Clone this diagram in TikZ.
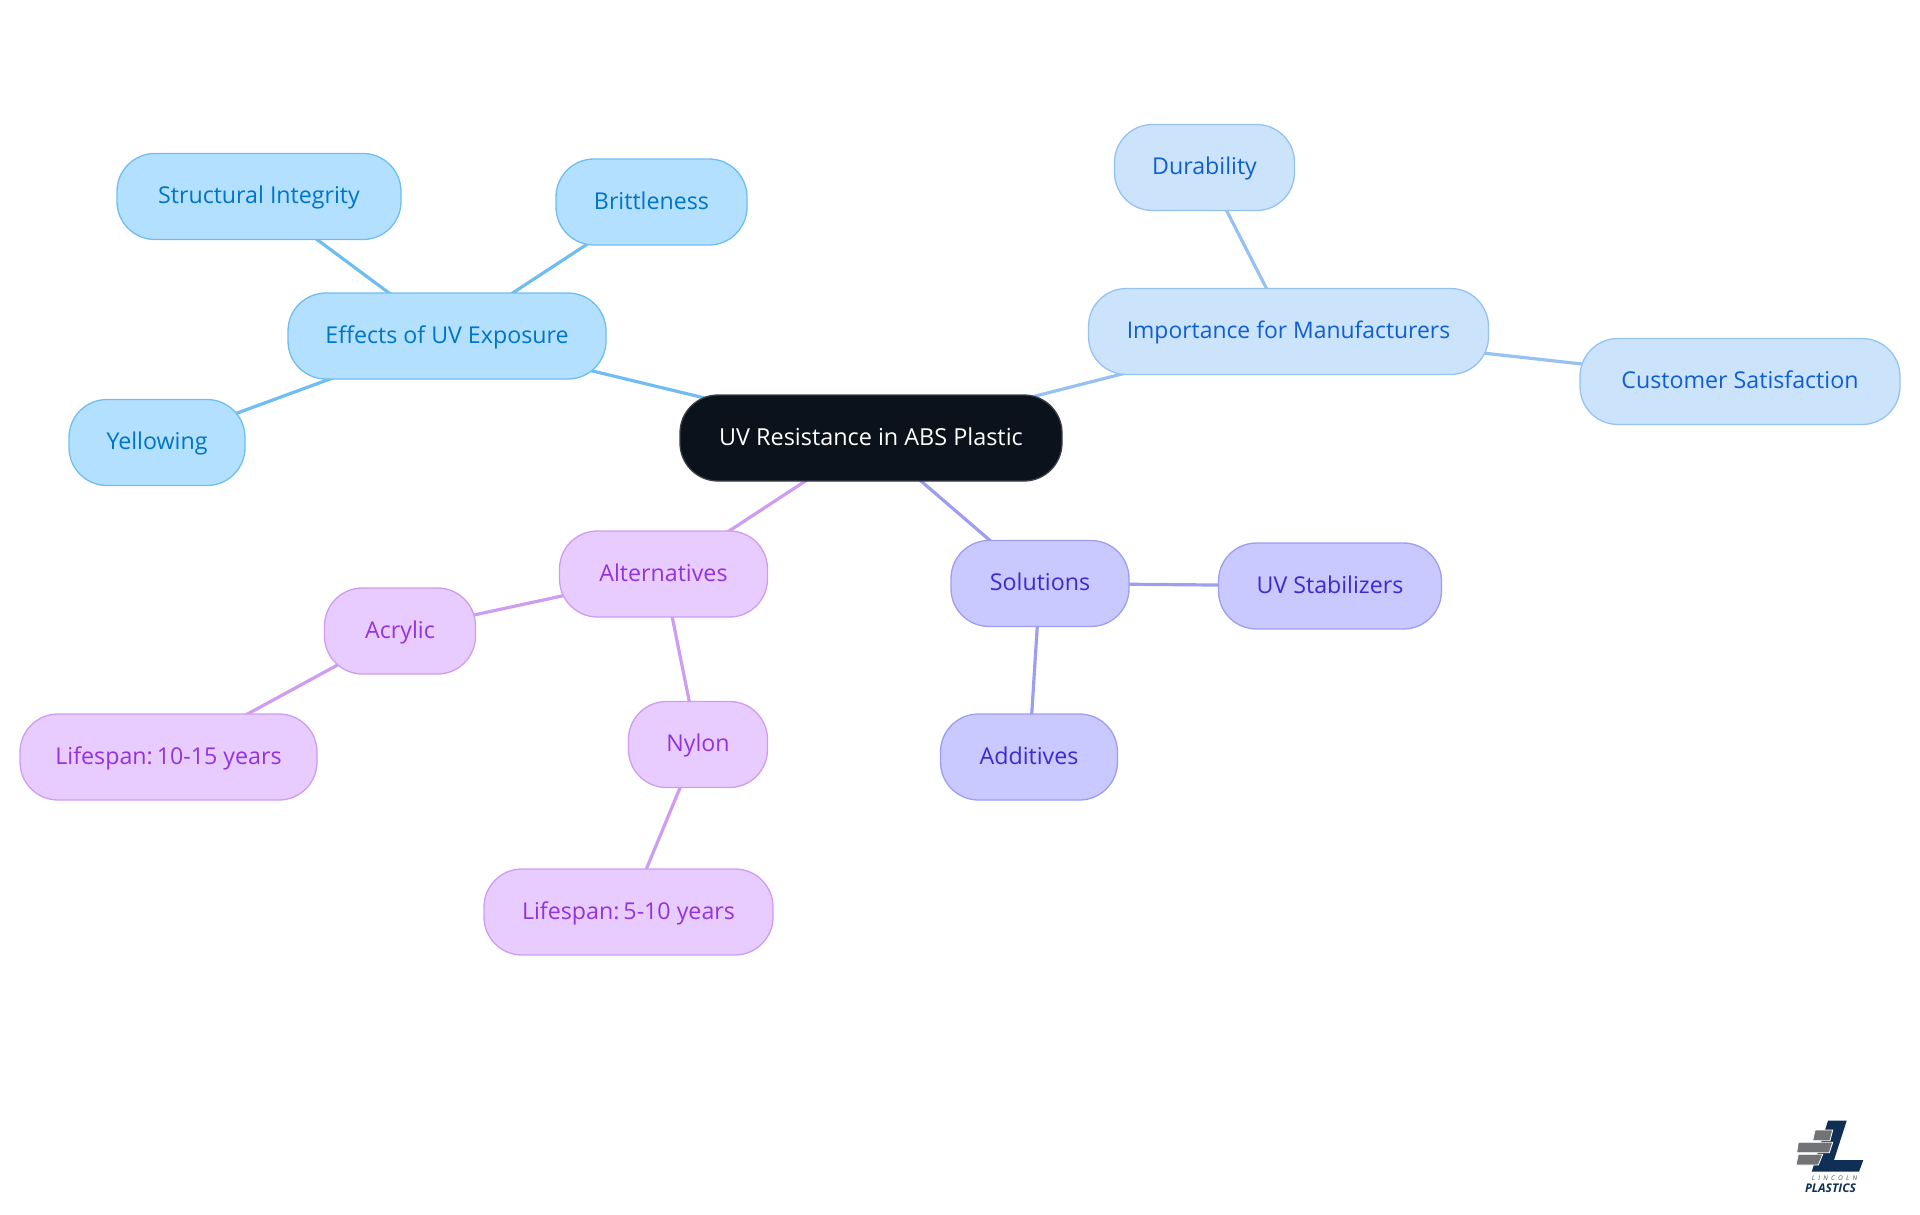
\documentclass[tikz,border=0pt]{standalone}
\usepackage{fontspec}
\setmainfont{Open Sans}
\usetikzlibrary{backgrounds}
\definecolor{rootF}{HTML}{0C121B}\definecolor{rootD}{HTML}{3A4048}
\definecolor{aF}{HTML}{B3E0FF}\definecolor{aD}{HTML}{70BDF2}\definecolor{aT}{HTML}{0074C7}
\definecolor{bF}{HTML}{CCE3FC}\definecolor{bD}{HTML}{96C2F2}\definecolor{bT}{HTML}{0F5FD0}
\definecolor{cF}{HTML}{C9C9FF}\definecolor{cD}{HTML}{9D9DF2}\definecolor{cT}{HTML}{3A2BD1}
\definecolor{dF}{HTML}{E8CCFF}\definecolor{dD}{HTML}{CE9CF2}\definecolor{dT}{HTML}{9333DC}
\definecolor{logoN}{HTML}{0F2F55}\definecolor{logoG}{HTML}{727376}\definecolor{logoT}{HTML}{4A4D52}
\tikzset{
  mm/.style={rectangle,rounded corners=38pt,line width=1.3pt,inner sep=0pt,minimum height=86pt,
    font=\fontsize{23.2}{27}\selectfont,text height=19.5pt,text depth=5pt},
  rootn/.style={mm,fill=rootF,draw=rootD,text=white},
  an/.style={mm,fill=aF,draw=aD,text=aT},
  bn/.style={mm,fill=bF,draw=bD,text=bT},
  cn/.style={mm,fill=cF,draw=cD,text=cT},
  dn/.style={mm,fill=dF,draw=dD,text=dT},
  al/.style={draw=aD,line width=3.2pt},
  bl/.style={draw=bD,line width=3.2pt},
  cl/.style={draw=cD,line width=3.2pt},
  dl/.style={draw=dD,line width=3.2pt},
}
\begin{document}
\begin{tikzpicture}[x=1pt,y=-1pt]
\useasboundingbox (0,0) rectangle (1920,1215);
\node[rootn,minimum width=382pt,font=\fontsize{23.4}{27}\selectfont] (root) at (871,438) {UV Resistance in ABS Plastic};
\node[an,minimum width=318pt] (eff) at (447,336) {Effects of UV Exposure};
\node[an,minimum width=284pt] (str) at (259,196.5) {Structural Integrity};
\node[an,minimum width=191pt] (bri) at (651.5,202) {Brittleness};
\node[an,minimum width=176pt] (yel) at (157,442.5) {Yellowing};
\node[bn,minimum width=400pt,font=\fontsize{22.9}{27}\selectfont] (imp) at (1288.5,331.5) {Importance for Manufacturers};
\node[bn,minimum width=180pt] (dur) at (1204.5,167.5) {Durability};
\node[bn,minimum width=320pt] (cus) at (1740,381.5) {Customer Satisfaction};
\node[cn,minimum width=178pt] (sol) at (1040,583.5) {Solutions};
\node[cn,minimum width=223pt] (uvs) at (1330,586) {UV Stabilizers};
\node[cn,minimum width=177pt] (add) at (1029,757) {Additives};
\node[dn,minimum width=208pt] (alt) at (663.5,574) {Alternatives};
\node[dn,minimum width=151pt] (acr) at (400,631) {Acrylic};
\node[dn,minimum width=297pt] (l15) at (168.5,757) {Lifespan:\kern-4pt{} 10-15 years};
\node[dn,minimum width=139pt] (nyl) at (698,744.5) {Nylon};
\node[dn,minimum width=289pt] (l10) at (628.5,912) {Lifespan:\kern-4pt{} 5-10 years};
\begin{scope}[on background layer]
\draw[al] (root.center) -- (eff.center);
\draw[al] (eff.center) -- (str.center);
\draw[al] (eff.center) -- (bri.center);
\draw[al] (eff.center) -- (yel.center);
\draw[bl] (root.center) -- (imp.center);
\draw[bl] (imp.center) -- (dur.center);
\draw[bl] (imp.center) -- (cus.center);
\draw[cl] (root.center) -- (sol.center);
\draw[cl] (sol.center) -- (uvs.center);
\draw[cl] (sol.center) -- (add.center);
\draw[dl] (root.center) -- (alt.center);
\draw[dl] (alt.center) -- (acr.center);
\draw[dl] (alt.center) -- (nyl.center);
\draw[dl] (acr.center) -- (l15.center);
\draw[dl] (nyl.center) -- (l10.center);
\end{scope}
% logo
\fill[logoN] (1828,1120.7) -- (1846.7,1120.7) -- (1834,1160) -- (1863.3,1160) -- (1859,1171.7) -- (1811.7,1171.7) -- cycle;
\fill[logoG,draw=white,line width=.8pt] (1815,1130) -- (1832.7,1130) -- (1830,1140.7) -- (1812.7,1140.7) -- cycle;
\fill[logoG,draw=white,line width=.8pt] (1798.3,1142.3) -- (1832.7,1142.3) -- (1829.3,1152.7) -- (1796.7,1152.7) -- cycle;
\fill[logoG,draw=white,line width=.8pt] (1798.3,1154.3) -- (1822.7,1154.3) -- (1818.3,1165) -- (1796,1165) -- cycle;
\node[inner sep=0pt,text=logoT,font=\fontsize{6.5}{7}\itshape\selectfont] (lin) at (1834.5,1178.5) {L\,\,\,I\,\,\,N\,\,\,C\,\,\,O\,\,\,L\,\,\,N};
\node[inner sep=0pt,text=logoN,font=\fontsize{12}{13}\bfseries\itshape\selectfont] (pla) at (1830.5,1188.5) {PLASTICS};
\end{tikzpicture}
\end{document}
